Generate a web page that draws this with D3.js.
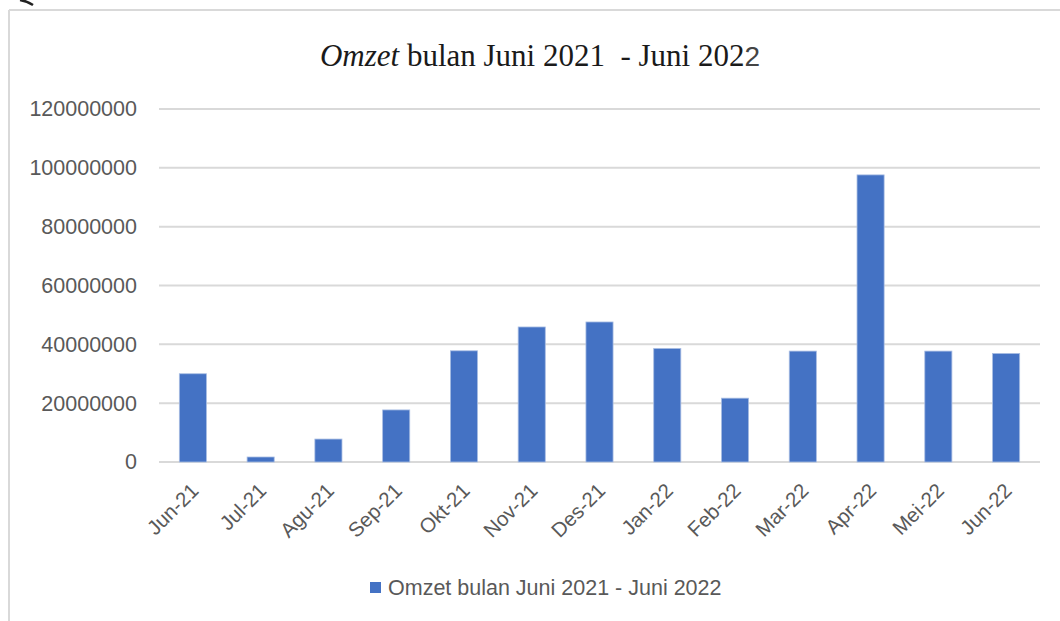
<!DOCTYPE html>
<html>
<head>
<meta charset="utf-8">
<script src="https://cdn.jsdelivr.net/npm/d3@7"></script>
<style>
  html, body { margin: 0; padding: 0; background: #fff; }
  svg { display: block; }
</style>
</head>
<body>
<svg id="chart" width="1060" height="621"></svg>
<script>
const categories = ["Jun-21","Jul-21","Agu-21","Sep-21","Okt-21","Nov-21","Des-21","Jan-22","Feb-22","Mar-22","Apr-22","Mei-22","Jun-22"];
const omzet = [30000000, 1700000, 7800000, 17700000, 37800000, 45900000, 47600000, 38600000, 21700000, 37700000, 97600000, 37700000, 36900000];
const yTicks = [0, 20000000, 40000000, 60000000, 80000000, 100000000, 120000000];
const seriesName = "Omzet bulan Juni 2021 - Juni 2022";

const svg = d3.select("#chart");
const W = 1060, H = 621;
const plot = { left: 159, right: 1040, top: 109, bottom: 462 };

// outer frame
svg.append("line").attr("x1", 9).attr("x2", 9).attr("y1", 10).attr("y2", H)
  .attr("stroke", "#d9d9d9").attr("stroke-width", 2);
svg.append("line").attr("x1", 9).attr("x2", W).attr("y1", 10).attr("y2", 10)
  .attr("stroke", "#d9d9d9").attr("stroke-width", 2);
// small dark stroke at top-left corner
svg.append("path").attr("d", "M20,0 Q27,1 33,5").attr("fill", "none")
  .attr("stroke", "#222").attr("stroke-width", 2.5);

const x = d3.scaleBand().domain(categories).range([plot.left, plot.right]).paddingInner(0.6).paddingOuter(0.3);
const y = d3.scaleLinear().domain([0, 120000000]).range([plot.bottom, plot.top]);

// gridlines
svg.append("g").selectAll("line").data(yTicks).join("line")
  .attr("x1", plot.left).attr("x2", plot.right)
  .attr("y1", d => y(d)).attr("y2", d => y(d))
  .attr("stroke", "#d9d9d9").attr("stroke-width", 2);

// y axis labels
const yAxis = d3.axisLeft(y).tickValues(yTicks).tickSize(0).tickPadding(22).tickFormat(d3.format("d"));
const gy = svg.append("g").attr("transform", `translate(${plot.left},0)`).call(yAxis);
gy.select(".domain").remove();
gy.selectAll("text").attr("font-family", "Liberation Sans, Arial, sans-serif")
  .attr("font-size", 21.5).attr("fill", "#595959");

// bars
svg.append("g").selectAll("rect").data(omzet).join("rect")
  .attr("x", (d, i) => x(categories[i]))
  .attr("width", x.bandwidth())
  .attr("y", d => y(d))
  .attr("height", d => y(0) - y(d))
  .attr("fill", "#4472c4")
  .attr("stroke", "#a9bde3").attr("stroke-width", 0.8);

// x axis labels
const xAxis = d3.axisBottom(x).tickSize(0).tickPadding(0);
const gx = svg.append("g").attr("transform", `translate(0,${plot.bottom})`).call(xAxis);
gx.select(".domain").remove();
gx.selectAll("text")
  .attr("font-family", "Liberation Sans, Arial, sans-serif")
  .attr("font-size", 20.5).attr("fill", "#595959")
  .attr("text-anchor", "end")
  .attr("dy", 0)
  .attr("transform", "translate(7,30) rotate(-45)");

// title
const title = svg.append("text").attr("x", 540).attr("y", 66)
  .attr("text-anchor", "middle")
  .attr("font-family", "Liberation Serif, 'Times New Roman', serif")
  .attr("font-size", 31).attr("fill", "#1a1a1a");
title.append("tspan").attr("font-style", "italic").text("Omzet");
title.append("tspan").text(" bulan Juni 2021\u00a0 - Juni 202");
title.append("tspan").attr("fill", "#444").attr("font-family", "Liberation Sans, Arial, sans-serif").attr("font-size", 28).text("2");

// legend
const lg = svg.append("g").attr("transform", "translate(370,582)");
lg.append("rect").attr("width", 11).attr("height", 11).attr("fill", "#4472c4");
lg.append("text").attr("x", 18).attr("y", 6).attr("dominant-baseline", "central")
  .attr("font-family", "Liberation Sans, Arial, sans-serif")
  .attr("font-size", 21.5).attr("fill", "#595959").text(seriesName);
</script>
</body>
</html>
